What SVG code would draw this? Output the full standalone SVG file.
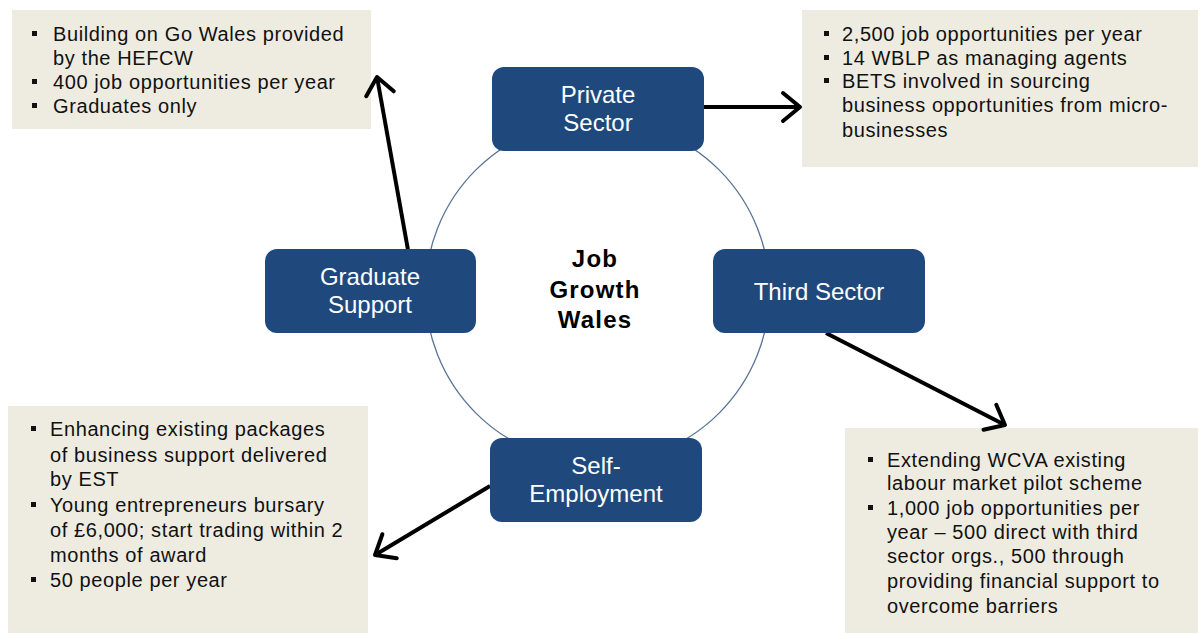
<svg xmlns="http://www.w3.org/2000/svg" width="1200" height="635" viewBox="0 0 1200 635">
  <style>
    .node rect { fill: #1F497D; }
    .node text { fill: #ffffff; font-family: "Liberation Sans", Arial, sans-serif; font-size: 24px; text-anchor: middle; }
    .note rect { fill: #EEECE1; }
    .note text { fill: #111111; font-family: "Liberation Sans", Arial, sans-serif; font-size: 20px; letter-spacing: 0.6px; }
    .note .b { fill: #111111; }
    .hub text { fill: #000000; font-family: "Liberation Sans", Arial, sans-serif; font-size: 24px; font-weight: bold; text-anchor: middle; letter-spacing: 1.2px; }
    .conn { stroke: #000000; stroke-width: 4; fill: none; marker-end: url(#chevron); }
  </style>
  <defs>
    <marker id="chevron" markerUnits="userSpaceOnUse" viewBox="-30 -20 40 40" markerWidth="40" markerHeight="40" refX="0" refY="0" orient="auto" overflow="visible">
      <path d="M-17,-14 L0,0 L-17,14" fill="none" stroke="#000000" stroke-width="4" stroke-linecap="round" stroke-linejoin="round"/>
    </marker>
  </defs>

  <rect width="1200" height="635" fill="#ffffff"/>

  <!-- ring behind the four programme nodes -->
  <circle id="ring" cx="597.5" cy="291.5" r="172" fill="none" stroke="#5a7496" stroke-width="1.3"/>

  <!-- detail notes -->
  <g id="note-graduate" class="note">
    <rect x="12" y="10" width="359" height="119"/>
    <rect class="b" x="32" y="31" width="5" height="5"/>
    <text x="53" y="41">Building on Go Wales provided</text>
    <text x="53" y="65">by the HEFCW</text>
    <rect class="b" x="32" y="79" width="5" height="5"/>
    <text x="53" y="89">400 job opportunities per year</text>
    <rect class="b" x="32" y="103" width="5" height="5"/>
    <text x="53" y="113">Graduates only</text>
  </g>

  <g id="note-private" class="note">
    <rect x="802" y="10" width="396" height="157"/>
    <rect class="b" x="824" y="31" width="5" height="5"/>
    <text x="842" y="41">2,500 job opportunities per year</text>
    <rect class="b" x="824" y="55" width="5" height="5"/>
    <text x="842" y="65">14 WBLP as managing agents</text>
    <rect class="b" x="824" y="78" width="5" height="5"/>
    <text x="842" y="88">BETS involved in sourcing</text>
    <text x="842" y="112">business opportunities from micro-</text>
    <text x="842" y="137">businesses</text>
  </g>

  <g id="note-self" class="note">
    <rect x="8" y="406" width="360" height="227"/>
    <rect class="b" x="31" y="426" width="5" height="5"/>
    <text x="50" y="436">Enhancing existing packages</text>
    <text x="50" y="462">of business support delivered</text>
    <text x="50" y="486">by EST</text>
    <rect class="b" x="31" y="502" width="5" height="5"/>
    <text x="50" y="512">Young entrepreneurs bursary</text>
    <text x="50" y="537">of £6,000; start trading within 2</text>
    <text x="50" y="562">months of award</text>
    <rect class="b" x="31" y="577" width="5" height="5"/>
    <text x="50" y="587">50 people per year</text>
  </g>

  <g id="note-third" class="note">
    <rect x="845" y="428" width="353" height="205"/>
    <rect class="b" x="868" y="457" width="5" height="5"/>
    <text x="887" y="467">Extending WCVA existing</text>
    <text x="887" y="490">labour market pilot scheme</text>
    <rect class="b" x="868" y="505" width="5" height="5"/>
    <text x="887" y="515">1,000 job opportunities per</text>
    <text x="887" y="539">year – 500 direct with third</text>
    <text x="887" y="563">sector orgs., 500 through</text>
    <text x="887" y="588">providing financial support to</text>
    <text x="887" y="613">overcome barriers</text>
  </g>

  <!-- connectors -->
  <g id="connectors">
    <line class="conn" x1="408" y1="250" x2="377" y2="77"/>
    <line class="conn" x1="704" y1="107" x2="800" y2="107"/>
    <line class="conn" x1="826" y1="333" x2="1005" y2="425"/>
    <line class="conn" x1="490" y1="486" x2="375" y2="555"/>
  </g>

  <!-- programme nodes -->
  <g id="node-private" class="node">
    <rect x="492" y="67" width="212" height="84" rx="12"/>
    <text x="598" y="103">Private</text>
    <text x="598" y="131">Sector</text>
  </g>

  <g id="node-graduate" class="node">
    <rect x="265" y="249" width="211" height="84" rx="12"/>
    <text x="370" y="285">Graduate</text>
    <text x="370" y="313">Support</text>
  </g>

  <g id="node-third" class="node">
    <rect x="713" y="249" width="212" height="84" rx="12"/>
    <text x="819" y="300">Third Sector</text>
  </g>

  <g id="node-self" class="node">
    <rect x="490" y="438" width="212" height="84" rx="12"/>
    <text x="596" y="474">Self-</text>
    <text x="596" y="502">Employment</text>
  </g>

  <!-- centre title -->
  <g id="hub" class="hub">
    <text x="595" y="267">Job</text>
    <text x="595" y="298">Growth</text>
    <text x="595" y="328">Wales</text>
  </g>
</svg>
